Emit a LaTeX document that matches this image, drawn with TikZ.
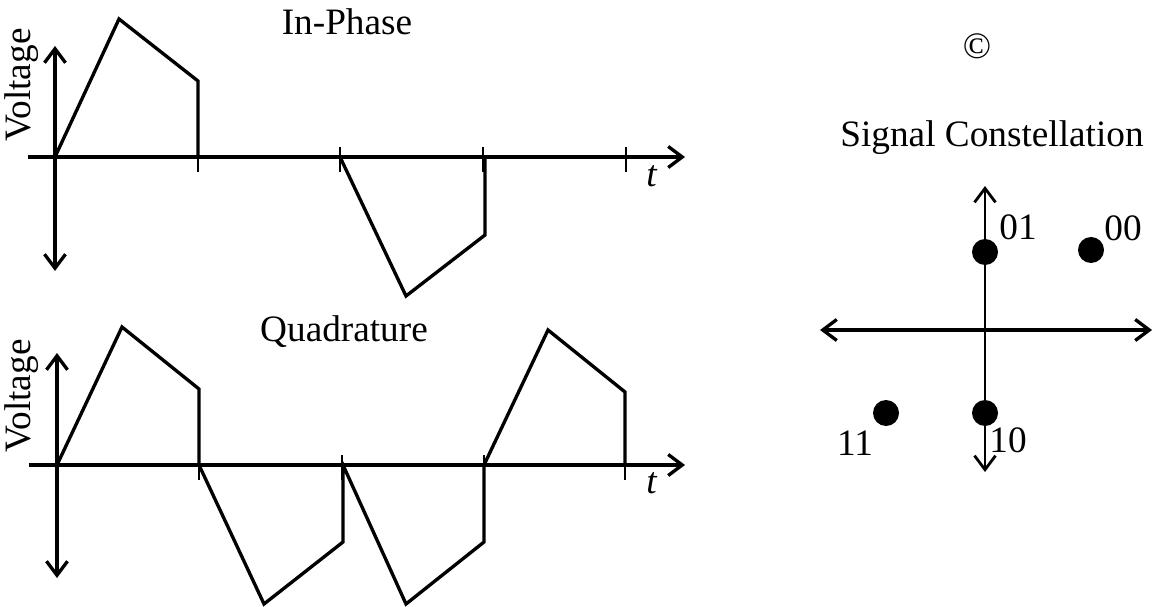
\documentclass[tikz,border=0pt]{standalone}
\usepackage{fontspec}
\setmainfont{Liberation Serif}
\usetikzlibrary{arrows.meta,positioning}

\begin{document}
\begin{tikzpicture}[>={Straight Barb[length=1.4mm,width=2.1mm]},line width=0.95pt,
  every node/.style={font=\fontsize{10.6}{12}\selectfont,inner sep=0pt},
  sympt/.style={circle,fill,minimum size=2.6mm}]
\useasboundingbox (0,0) rectangle (11.55,6.06);
% in-phase
\draw[->] (0.28,4.49) -- (6.85,4.49);
\draw[<->] (0.55,3.35) -- (0.55,5.60);
\foreach \x in {1.98,3.40,4.83,6.26} \draw[line width=0.5pt] (\x,4.34) -- (\x,4.59);
\draw (0.55,4.49) -- (1.19,5.87) -- (1.98,5.25) -- (1.98,4.49);
\draw (3.40,4.49) -- (4.06,3.10) -- (4.85,3.71) -- (4.85,4.49);
\node (ti) at (6.52,4.30) {\textit{t}};
\node[rotate=90] (vi) at (0.22,5.21) {Voltage};
\node[anchor=base] (ip) at (3.47,5.71) {In-Phase};
% quadrature
\draw[->] (0.29,1.41) -- (6.85,1.41);
\draw[<->] (0.57,0.28) -- (0.57,2.53);
\foreach \x in {1.99,3.42,4.84,6.25} \draw[line width=0.5pt] (\x,1.26) -- (\x,1.51);
\draw (0.57,1.41) -- (1.22,2.79) -- (1.99,2.17) -- (1.99,1.41) -- (2.64,0.02) -- (3.43,0.64)
  -- (3.43,1.41) -- (4.06,0.02) -- (4.84,0.64) -- (4.84,1.41) -- (5.48,2.76) -- (6.25,2.14) -- (6.25,1.41);
\node (tq) at (6.52,1.23) {\textit{t}};
\node[rotate=90] (vq) at (0.22,2.10) {Voltage};
\node[anchor=base] (qd) at (3.44,2.64) {Quadrature};
% constellation
\node (cp) at (9.77,5.60) {\textcopyright};
\node[anchor=base] (sc) at (9.92,4.59) {Signal Constellation};
\draw[<->,line width=0.8pt] (9.85,1.34) -- (9.85,4.20);
\draw[<->] (8.20,2.76) -- (11.52,2.76);
\node[sympt] (s01) at (9.85,3.54) {};
\node[sympt] (s00) at (10.91,3.56) {};
\node[sympt] (s11) at (8.86,1.93) {};
\node[sympt] (s10) at (9.85,1.93) {};
\node (l01) at (10.18,3.79) {01};
\node (l00) at (11.23,3.78) {00};
\node (l11) at (8.55,1.63) {11};
\node (l10) at (10.08,1.66) {10};
\end{tikzpicture}
\end{document}
